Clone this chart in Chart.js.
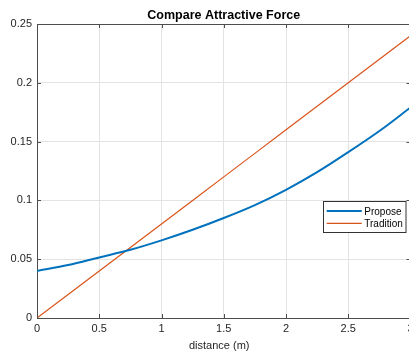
<!DOCTYPE html>
<html><head><meta charset="utf-8">
<script src="https://cdn.jsdelivr.net/npm/chart.js@4/dist/chart.umd.min.js"></script>
<style>
html,body{margin:0;padding:0;overflow:hidden;background:#fff;width:409px;height:354px}
#wrap{position:relative;width:420px;height:354px}
</style>
</head><body><div id="wrap"><canvas id="c"></canvas></div>
<script>
const distances = [0, 0.25, 0.5, 0.75, 1, 1.25, 1.5, 1.75, 2, 2.25, 2.5, 2.75, 3];
const proposeForce = [0.040, 0.045, 0.0515, 0.058, 0.066, 0.075, 0.085, 0.096, 0.109, 0.124, 0.141, 0.159, 0.179];
const traditionForce = [0, 0.02, 0.04, 0.06, 0.08, 0.10, 0.12, 0.14, 0.16, 0.18, 0.20, 0.22, 0.24];
const xTickValues = [0, 0.5, 1, 1.5, 2, 2.5, 3];
const xTickLabels = ['0', '0.5', '1', '1.5', '2', '2.5', '3'];
const yTickValues = [0, 0.05, 0.1, 0.15, 0.2, 0.25];
const yTickLabels = ['0', '0.05', '0.1', '0.15', '0.2', '0.25'];
const seriesNames = ['Propose', 'Tradition'];
const seriesColors = ['#0072BD', '#D95319'];
const chartTitle = 'Compare Attractive Force';
const xAxisTitle = 'distance (m)';

const FONT = '"Liberation Sans", Arial, Helvetica, sans-serif';
const TEXT = '#262626';
const AXIS = '#4d4d4d';

function lookup(values, labels, v) {
  for (let i = 0; i < values.length; i++) if (Math.abs(values[i] - v) < 1e-9) return labels[i];
  return '';
}

const matlabBox = {
  id: 'matlabBox',
  afterDraw(chart) {
    const {ctx, chartArea: a, scales: {x, y}} = chart;
    ctx.save();
    ctx.strokeStyle = AXIS;
    ctx.lineWidth = 1;
    // top and right border
    ctx.beginPath();
    ctx.moveTo(a.left, Math.round(a.top) + 0.5);
    ctx.lineTo(a.right, Math.round(a.top) + 0.5);
    ctx.moveTo(a.right, a.top);
    ctx.lineTo(a.right, a.bottom);
    ctx.stroke();
    // inward ticks
    const tl = 4;
    ctx.beginPath();
    xTickValues.forEach(v => {
      const px = Math.round(x.getPixelForValue(v)) + 0.5;
      ctx.moveTo(px, a.bottom); ctx.lineTo(px, a.bottom - tl);
      ctx.moveTo(px, a.top); ctx.lineTo(px, a.top + tl);
    });
    yTickValues.forEach(v => {
      const py = Math.round(y.getPixelForValue(v)) + 0.5;
      ctx.moveTo(a.left, py); ctx.lineTo(a.left + tl, py);
      ctx.moveTo(a.right, py); ctx.lineTo(a.right - tl, py);
    });
    ctx.stroke();
    // title
    ctx.fillStyle = '#000';
    ctx.font = 'bold 12.5px ' + FONT;
    ctx.textAlign = 'center';
    ctx.textBaseline = 'alphabetic';
    ctx.fillText(chartTitle, (a.left + a.right) / 2, 19);
    // x axis title
    ctx.fillStyle = TEXT;
    ctx.font = '11px ' + FONT;
    ctx.fillText(xAxisTitle, (a.left + a.right) / 2 - 4.5, 349);
    // legend
    const lx = 323.5, ly = 201.5, lw = 82.5, lh = 31;
    ctx.fillStyle = '#fff';
    ctx.fillRect(lx, ly, lw, lh);
    ctx.strokeStyle = '#333';
    ctx.strokeRect(lx, ly, lw, lh);
    const rows = [211, 223.3];
    ctx.font = '10px ' + FONT;
    ctx.textAlign = 'left';
    chart.data.datasets.forEach((ds, i) => {
      ctx.strokeStyle = ds.borderColor;
      ctx.lineWidth = ds.borderWidth;
      ctx.beginPath();
      ctx.moveTo(326.7, rows[i]);
      ctx.lineTo(361.7, rows[i]);
      ctx.stroke();
      ctx.fillStyle = '#000';
      ctx.fillText(ds.label, 364.3, rows[i] + 4);
    });
    ctx.restore();
  }
};

new Chart(document.getElementById('c'), {
  type: 'line',
  data: {
    datasets: [
      {
        label: seriesNames[0],
        data: distances.map((d, i) => ({x: d, y: proposeForce[i]})),
        borderColor: seriesColors[0],
        borderWidth: 2,
        pointRadius: 0,
        cubicInterpolationMode: 'monotone',
        fill: false
      },
      {
        label: seriesNames[1],
        data: distances.map((d, i) => ({x: d, y: traditionForce[i]})),
        borderColor: seriesColors[1],
        borderWidth: 1.2,
        pointRadius: 0,
        tension: 0,
        fill: false
      }
    ]
  },
  options: {
    responsive: true,
    maintainAspectRatio: false,
    animation: false,
    devicePixelRatio: 1,
    layout: {padding: {top: 24, right: 9.5, left: 0, bottom: 0}},
    plugins: {legend: {display: false}, title: {display: false}, tooltip: {enabled: false}},
    scales: {
      x: {
        type: 'linear', min: 0, max: 3,
        afterBuildTicks: s => { s.ticks = xTickValues.map(v => ({value: v})); },
        afterFit: s => { s.height = 36; },
        ticks: {
          callback: v => lookup(xTickValues, xTickLabels, v),
          font: {family: FONT, size: 11}, color: TEXT, padding: 4.5, maxRotation: 0, autoSkip: false
        },
        grid: {color: '#e3e3e3', drawTicks: false, lineWidth: 1},
        border: {display: true, color: AXIS, width: 1}
      },
      y: {
        type: 'linear', min: 0, max: 0.25,
        afterBuildTicks: s => { s.ticks = yTickValues.map(v => ({value: v})); },
        afterFit: s => { s.width = 37; },
        ticks: {
          callback: v => lookup(yTickValues, yTickLabels, v),
          font: {family: FONT, size: 11}, color: TEXT, padding: 5, autoSkip: false
        },
        grid: {color: '#e3e3e3', drawTicks: false, lineWidth: 1},
        border: {display: true, color: AXIS, width: 1}
      }
    }
  },
  plugins: [matlabBox]
});
</script>
</body></html>
